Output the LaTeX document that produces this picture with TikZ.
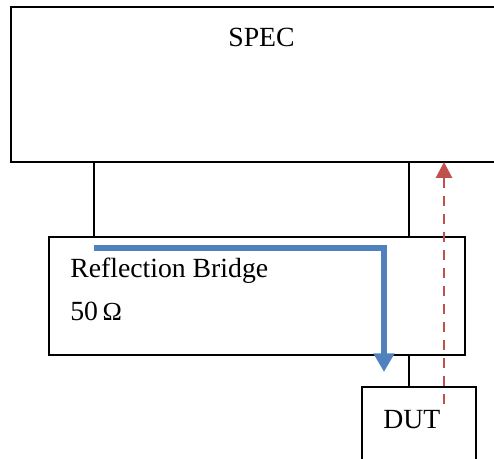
\documentclass[tikz,border=0pt]{standalone}
\usepackage{fontspec}
\setmainfont{Liberation Serif}
\usetikzlibrary{arrows.meta}
\definecolor{reflblue}{RGB}{79,129,189}
\definecolor{measred}{RGB}{192,80,77}
\begin{document}
\begin{tikzpicture}[x=0.75pt,y=-0.75pt]
    \tikzstyle{every node}=[font=\fontsize{20.8}{25}\selectfont]
    \tikzstyle{box}=[draw=black,line width=1.5pt,rectangle,inner sep=0pt,outer sep=0pt,anchor=north west]
    \tikzstyle{wire}=[draw=black,line width=1.5pt]
    \tikzstyle{label}=[inner sep=0pt]
    \tikzstyle{reflect}=[draw=reflblue,line width=4.5pt,-{Triangle[length=14pt,width=15pt]}]
    \tikzstyle{measure}=[draw=measred,line width=2.2pt,dash pattern=on 7.5pt off 6pt,-{Triangle[length=12pt,width=12pt]}]

    \useasboundingbox (0,0) rectangle (494,459);
    \clip (0,0) rectangle (494,459);

    % Draw the boxes
    \node[box,minimum width=382pt,minimum height=116.25pt] (spec) at (11,7) {};
    \node[box,minimum width=312pt,minimum height=88.5pt] (bridge) at (49,237) {};
    \node[box,minimum width=85.5pt,minimum height=75pt] (dut) at (362,387) {};

    % Texts of the boxes
    \node[label,anchor=base] (spec-t) at (261.5,47) {SPEC};
    \node[label,anchor=base west] (bridge-t) at (70,278) {Reflection Bridge};
    \node[label,anchor=base west] (bridge-r) at (70,321) {50\,{\fontsize{19.5}{22}\selectfont Ω}};
    \node[label,anchor=base west] (dut-t) at (383,429) {DUT};

    % Connect the boxes
    \coordinate (lx) at (94,0);
    \coordinate (rx) at (409,0);
    \draw[wire] (spec.south -| lx) -- (bridge.north -| lx);
    \draw[wire] (spec.south -| rx) -- (bridge.north -| rx);
    \draw[wire] (bridge.south -| rx) -- (dut.north -| rx);

    % Signal paths
    \coordinate (in) at (94,248);
    \coordinate (out) at (384,372);
    \coordinate (back) at (444,404);
    \draw[reflect] (in) -| (out);
    \draw[measure] (back) -- (spec.south -| back);
\end{tikzpicture}
\end{document}
